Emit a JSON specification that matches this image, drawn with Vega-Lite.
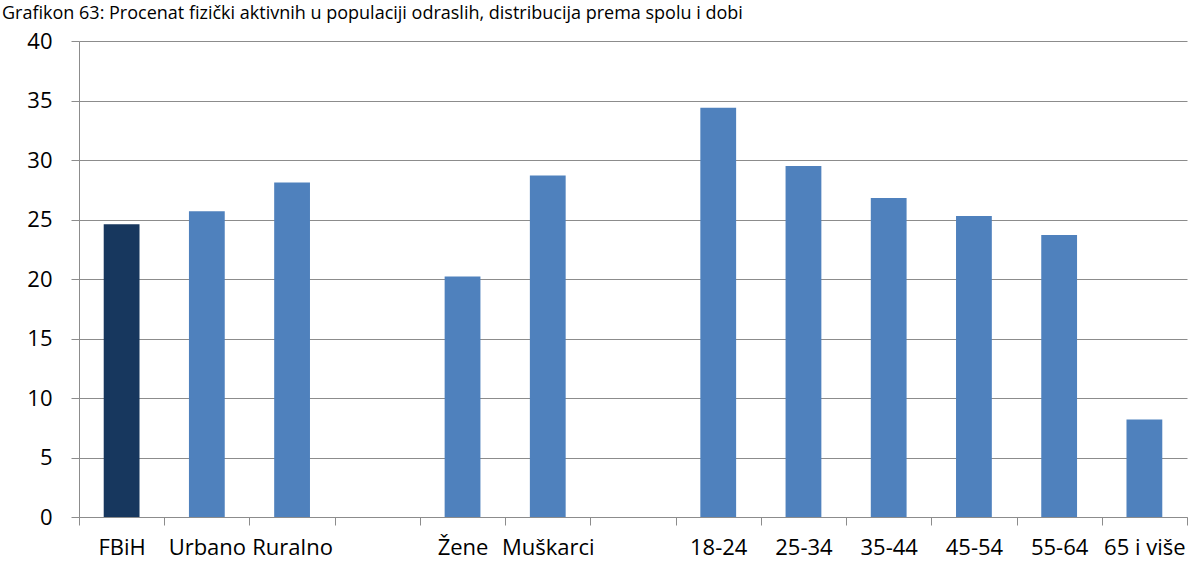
{
  "$schema": "https://vega.github.io/schema/vega-lite/v6.json",
  "autosize": "none",
  "width": 1108,
  "height": 476,
  "padding": {"left": 79, "top": 41, "right": 15, "bottom": 57},
  "background": "white",
  "title": {
    "text": "Grafikon 63: Procenat fizički aktivnih u populaciji odraslih, distribucija prema spolu i dobi",
    "anchor": "start",
    "frame": "group",
    "offset": 7,
    "dx": -77,
    "font": "Open Sans",
    "fontSize": 18,
    "fontWeight": "normal",
    "color": "black"
  },
  "data": {
    "values": [
      {"kategorija": "FBiH", "procenat": 24.6},
      {"kategorija": "Urbano", "procenat": 25.7},
      {"kategorija": "Ruralno", "procenat": 28.1},
      {"kategorija": "Žene", "procenat": 20.2},
      {"kategorija": "Muškarci", "procenat": 28.7},
      {"kategorija": "18-24", "procenat": 34.4},
      {"kategorija": "25-34", "procenat": 29.5},
      {"kategorija": "35-44", "procenat": 26.8},
      {"kategorija": "45-54", "procenat": 25.3},
      {"kategorija": "55-64", "procenat": 23.7},
      {"kategorija": "65 i više", "procenat": 8.2}
    ]
  },
  "mark": {"type": "bar", "width": {"band": 0.42}},
  "encoding": {
    "x": {
      "field": "kategorija",
      "type": "nominal",
      "sort": null,
      "scale": {
        "domain": ["FBiH", "Urbano", "Ruralno", "gap1", "Žene", "Muškarci", "gap2", "18-24", "25-34", "35-44", "45-54", "55-64", "65 i više"],
        "paddingInner": 0,
        "paddingOuter": 0
      },
      "axis": {
        "title": null,
        "labelAngle": 0,
        "labelExpr": "indexof(datum.label, 'gap') == 0 ? '' : datum.label",
        "tickBand": "extent",
        "tickSize": 8,
        "tickColor": "#8c8c8c",
        "domainColor": "#8c8c8c",
        "labelFont": "Open Sans",
        "labelFontSize": 22,
        "labelColor": "black",
        "labelPadding": 12,
        "grid": false
      }
    },
    "y": {
      "field": "procenat",
      "type": "quantitative",
      "scale": {"domain": [0, 40], "nice": false},
      "axis": {
        "title": null,
        "values": [0, 5, 10, 15, 20, 25, 30, 35, 40],
        "grid": true,
        "gridColor": "#8c8c8c",
        "tickColor": "#8c8c8c",
        "domainColor": "#8c8c8c",
        "tickSize": 8,
        "labelFont": "Open Sans",
        "labelFontSize": 22,
        "labelColor": "black",
        "labelPadding": 19
      }
    },
    "color": {
      "condition": {"test": "datum.kategorija == 'FBiH'", "value": "#17375E"},
      "value": "#4F81BD"
    }
  },
  "config": {"view": {"stroke": null}}
}
